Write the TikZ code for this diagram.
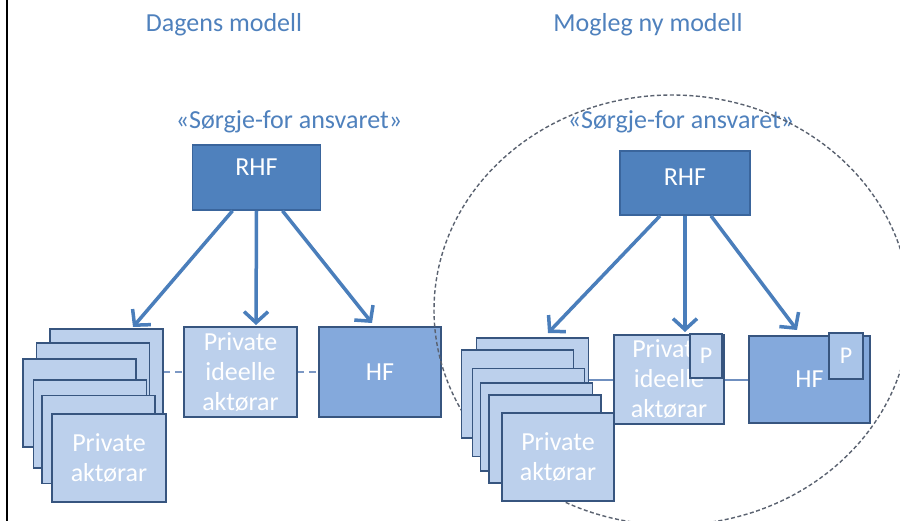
\documentclass[tikz,border=0pt]{standalone}
\usepackage{fontspec}
\setmainfont{Carlito}
\usetikzlibrary{arrows.meta}
\definecolor{titleblue}{HTML}{4F81BD}
\definecolor{rhffill}{HTML}{4F81BD}
\definecolor{rhfline}{HTML}{3A659C}
\definecolor{hffill}{HTML}{84A9DC}
\definecolor{privfill}{HTML}{BCD0EC}
\definecolor{pfill}{HTML}{A9C4E8}
\definecolor{boxline}{HTML}{37557F}
\definecolor{arrowblue}{HTML}{4A7EBB}
\definecolor{linkdash}{HTML}{7C98C4}
\definecolor{linksolid}{HTML}{6F8FBF}
\definecolor{circline}{HTML}{5A6270}
\begin{document}
\begin{tikzpicture}[x=1pt,y=-1pt,
  bigfont/.style={font=\fontsize{26}{30}\selectfont},
  title/.style={bigfont,text=titleblue,inner sep=0pt},
  anybox/.style={rectangle,draw=boxline,line width=1.7pt,inner sep=0pt,
    text=white,bigfont,align=center},
  rhfbox/.style={anybox,fill=rhffill,draw=rhfline,minimum width=128pt,minimum height=65pt,text height=17pt},
  hfbox/.style={anybox,fill=hffill,minimum width=122pt,minimum height=89pt},
  privbox/.style={anybox,fill=privfill,minimum width=113pt,minimum height=88pt},
  pbox/.style={anybox,minimum width=33pt,minimum height=45pt,
    font=\fontsize{24}{26}\selectfont},
  arr/.style={draw=arrowblue,line width=3.5pt,
    -{Straight Barb[length=11pt,width=24pt]}},
  dashlink/.style={draw=linkdash,line width=2pt,dash pattern=on 7pt off 5pt},
  solidlink/.style={draw=linksolid,line width=1.8pt},
  circ/.style={draw=circline,line width=1.4pt,dash pattern=on 4pt off 2.5pt}
]
\useasboundingbox (0,0) rectangle (900,521);
\fill[white] (0,0) rectangle (900,521);
\draw[line width=2pt] (6.5,0) -- (6.5,521);

% titles
\node[title] (tDag) at (224,25) {Dagens modell};
\node[title] (tMog) at (648,25) {Mogleg ny modell};
\node[title] (tSL) at (289,122) {«Sørgje-for ansvaret»};

% ---------- left model ----------
\node[rhfbox,text depth=21pt] (rhfL) at (256.5,177.5) {RHF};

% links (behind boxes)
\coordinate (lkL1) at (163,372);
\coordinate (lkL2) at (184,372);
\coordinate (lkL3) at (297,372);
\coordinate (lkL4) at (319,372);
\draw[dashlink] (lkL1) -- (lkL2);
\draw[dashlink] (lkL3) -- (lkL4);

\node[privbox] (sL1) at (106.5,373) {};
\node[privbox] (sL2) at (93,387) {};
\node[privbox] (sL3) at (79.5,403) {};
\node[privbox] (sL4) at (90,424) {};
\node[privbox] (sL5) at (98.5,439.5) {};
\node[privbox,minimum width=114pt] (sL6) at (109,458) {Private\\aktørar};

\node[privbox,minimum height=90pt] (piL) at (240.5,372) {Private\\ideelle\\aktørar};
\node[hfbox,minimum height=90pt] (hfL) at (380,372) {HF};

\coordinate (tipL1) at (133,327);
\coordinate (tipL2) at (256,325);
\coordinate (tipL3) at (372,323);
\draw[arr] ([xshift=-24pt]rhfL.south) -- (tipL1);
\draw[arr] (rhfL.south) -- (tipL2);
\draw[arr] ([xshift=26pt]rhfL.south) -- (tipL3);

% ---------- dashed ellipse ----------
\node[title] (tSR) at (681,122) {«Sørgje-for ansvaret»};
\draw[circ] (672,310) ellipse [x radius=238, y radius=215];

% ---------- right model ----------
\node[rhfbox,minimum width=130pt,minimum height=64pt,text depth=12pt] (rhfR) at (685,183) {RHF};

\coordinate (lkR1) at (588,380);
\coordinate (lkR2) at (614,380);
\coordinate (lkR3) at (724,380);
\coordinate (lkR4) at (749,380);
\draw[solidlink] (lkR1) -- (lkR2);
\draw[solidlink] (lkR3) -- (lkR4);

\node[privbox,minimum width=112pt] (sR1) at (532.5,382) {};
\node[privbox,minimum width=112pt] (sR2) at (517.5,394) {};
\node[privbox,minimum width=112pt] (sR3) at (528.5,412.5) {};
\node[privbox,minimum width=112pt] (sR4) at (536.5,427) {};
\node[privbox,minimum width=112pt] (sR5) at (545,439) {};
\node[privbox,minimum width=112pt] (sR6) at (558,457) {Private\\aktørar};

\node[privbox,minimum width=110pt,minimum height=89pt] (piR) at (669,379.5) {Private\\ideelle\\aktørar};
\node[pbox,fill=privfill,minimum width=32pt,minimum height=44pt] (pR1) at (706,356) {P};
\node[hfbox,minimum width=121pt,minimum height=87pt] (hfR) at (809.5,379.5) {HF};
\node[pbox,fill=pfill,minimum width=34pt,minimum height=46pt] (pR2) at (846,356) {P};

\coordinate (tipR1) at (548,333);
\coordinate (tipR2) at (685,332);
\coordinate (tipR3) at (797,330);
\draw[arr] ([xshift=-25pt]rhfR.south) -- (tipR1);
\draw[arr] (rhfR.south) -- (tipR2);
\draw[arr] ([xshift=26pt]rhfR.south) -- (tipR3);
\end{tikzpicture}
\end{document}
